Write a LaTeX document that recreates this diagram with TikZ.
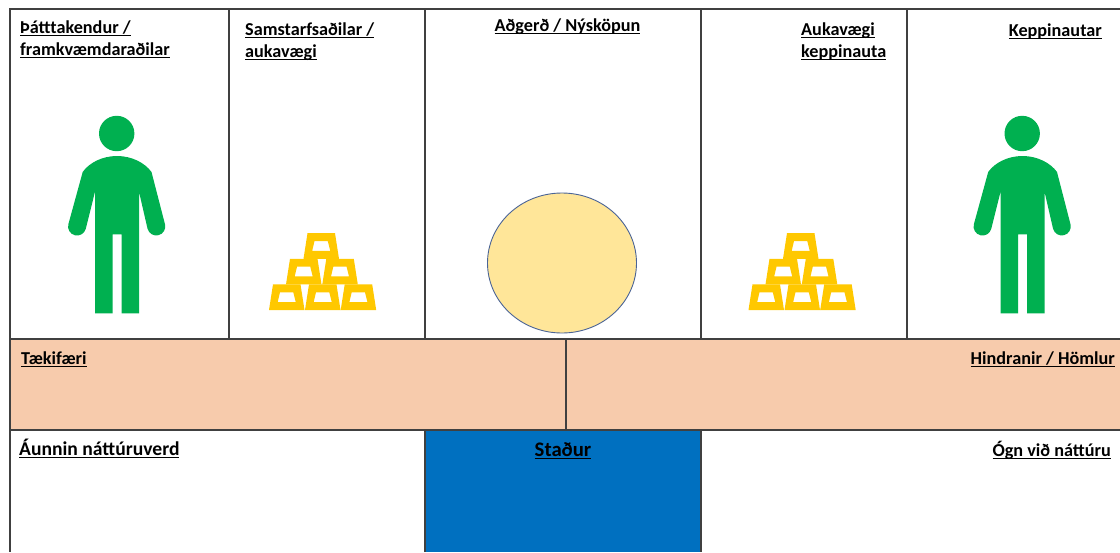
\documentclass[tikz,border=0pt]{standalone}
\usepackage{fontspec}
\setmainfont{Carlito}
\usetikzlibrary{
    calc,
    positioning
}
\newcommand{\labelrule}[1]{\leavevmode\setbox0\hbox{#1}\rlap{\vrule width\wd0 height-2.2pt depth3.3pt}\box0}
\definecolor{bandpeach}{HTML}{F7CBAC}
\definecolor{placeblue}{HTML}{0070C0}
\definecolor{figuregreen}{HTML}{00B050}
\definecolor{goldyellow}{HTML}{FFC800}
\definecolor{circleyellow}{HTML}{FFE699}
\definecolor{circleedge}{HTML}{4A6496}
\definecolor{gridline}{HTML}{404040}
\tikzset{
    gridstroke/.style={draw=gridline, line width=1.2pt},
    label text/.style={inner sep=0pt, font=\bfseries\fontsize{18.2}{22}\selectfont, align=left, text=black},
    person/.pic={
        \fill[figuregreen] (116.7, -133.5) circle (17.7);
        \fill[figuregreen]
        (95, -313.3) -- (95, -191.7) -- (85.8, -228.7)
        arc[start angle=-14, delta angle=-180, radius=9] -- (82.7, -172)
        .. controls (89, -163) and (102, -156) .. (117, -156)
        .. controls (132, -156) and (145, -163) .. (151.5, -172)
        -- (165, -224.3)
        arc[start angle=14, delta angle=-180, radius=9] -- (139, -191.7)
        -- (139, -313.3) -- (121.7, -313.3) -- (121.7, -234.3)
        -- (112.7, -234.3) -- (112.7, -313.3) -- cycle;
    },
    goldbar/.pic={
        \fill[goldyellow, even odd rule]
        (0, 0) -- (35.5, 0) -- (31.5, 25.6) -- (4, 25.6) -- cycle
        (8.7, 8) -- (26.7, 8) -- (24.3, 17.7) -- (11, 17.7) -- cycle;
    },
    goldstack/.pic={
        \pic at (0, 0) {goldbar};
        \pic at (36, 0) {goldbar};
        \pic at (71.7, 0) {goldbar};
        \pic at (17, 25.6) {goldbar};
        \pic at (53.3, 25.6) {goldbar};
        \pic at (34.5, 51.2) {goldbar};
    }
}

\begin{document}
\begin{tikzpicture}[x=1pt, y=1pt]
    \useasboundingbox (0, 0) rectangle (1120, -552);
    \fill[white] (0, 0) rectangle (1120, -552);

    % bands
    \fill[bandpeach] (10, -339) rectangle (1120, -430);
    \filldraw[fill=placeblue, gridstroke] (425, -552) -- (425, -430) -- (701, -430) -- (701, -552);

    % grid
    \draw[gridstroke]
    (1120, -9) -- (10, -9) -- (10, -552)
    (10, -339) -- (1120, -339)
    (10, -430) -- (1120, -430)
    (229, -9) -- (229, -339)
    (425, -9) -- (425, -339)
    (701, -9) -- (701, -339)
    (907, -9) -- (907, -339)
    (566, -339) -- (566, -430);

    % figures
    \pic at (0, 0) {person};
    \pic at (905.5, 0) {person};
    \pic at (269, -310) {goldstack};
    \pic at (748.5, -310) {goldstack};
    \filldraw[fill=circleyellow, draw=circleedge, line width=0.9pt] (562, -263) ellipse (74.5 and 70);

    % labels
    \node[label text, anchor=base west] (participants) at (20, -55) {\labelrule{framkvæmdaraðilar}};
    \node[label text, anchor=base west] (participantstop) at (20, -33) {\labelrule{Þátttakendur /}};
    \node[label text, anchor=base west] (partners) at (245, -57) {\labelrule{aukavægi}};
    \node[label text, anchor=base west] (partnerstop) at (245, -35) {\labelrule{Samstarfsaðilar /}};
    \node[label text, anchor=base] (action) at (567.5, -31) {\labelrule{Aðgerð / Nýsköpun}};
    \node[label text, anchor=base west] (rivalgains) at (801, -57) {\labelrule{keppinauta}};
    \node[label text, anchor=base west] (rivalgainstop) at (801, -35) {\labelrule{Aukavægi}};
    \node[label text, anchor=base east] (rivals) at (1102, -36) {\labelrule{Keppinautar}};
    \node[label text, anchor=base west] (chances) at (21, -364) {\labelrule{Tækifæri}};
    \node[label text, anchor=base east] (barriers) at (1115, -364) {\labelrule{Hindranir / Hömlur}};
    \node[label text, anchor=base west, font=\bfseries\fontsize{19.6}{22}\selectfont] (gained) at (19, -455) {\labelrule{Áunnin náttúruverd}};
    \node[label text, anchor=base, font=\bfseries\fontsize{20.7}{22}\selectfont] (place) at (563, -456) {\labelrule{Staður}};
    \node[label text, anchor=base east] (threat) at (1111, -456) {\labelrule{Ógn við náttúru}};
\end{tikzpicture}
\end{document}
